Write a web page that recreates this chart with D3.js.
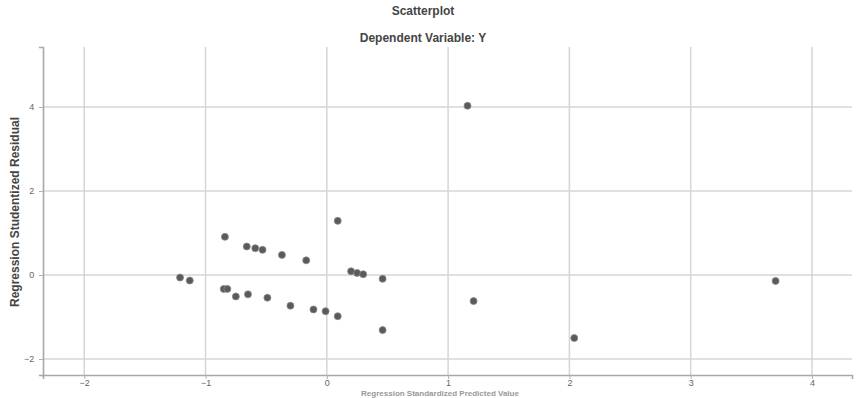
<!DOCTYPE html>
<html>
<head>
<meta charset="utf-8">
<script src="https://cdn.jsdelivr.net/npm/d3@7"></script>
<style>
  body { margin: 0; background: #fff; }
  svg { display: block; font-family: "Liberation Sans", Arial, sans-serif; }
</style>
</head>
<body>
<div id="chart"></div>
<script>
// predicted (standardized) values
var predValues = [0.09, -0.84, -0.66, -0.59, -0.53, -0.37, -0.17, -1.21, -1.13,
    0.20, 0.25, 0.30, 0.46, -0.85, -0.82, -0.75, -0.65, -0.49, -0.30, -0.11,
    -0.01, 0.09, 0.46, 1.16, 1.21, 2.04, 3.70];
// studentized residuals
var residValues = [1.29, 0.91, 0.68, 0.64, 0.60, 0.48, 0.35, -0.06, -0.13,
    0.09, 0.05, 0.02, -0.09, -0.33, -0.33, -0.51, -0.46, -0.54, -0.73, -0.82,
    -0.86, -0.98, -1.31, 4.03, -0.62, -1.50, -0.14];

var xTicks = [-2, -1, 0, 1, 2, 3, 4];
var yTicks = [-2, 0, 2, 4];

var vWidth = 861, vHeight = 398;
var vMargin = { mTop: 47, mRight: 9, mBottom: 23, mLeft: 43 };

var svg = d3.select("#chart")
    .append("svg")
    .attr("width", vWidth)
    .attr("height", vHeight);

var xScale = d3.scaleLinear()
    .domain([-2.34, 4.33])
    .range([vMargin.mLeft, vWidth - vMargin.mRight]);

var yScale = d3.scaleLinear()
    .domain([-2.38, 5.43])
    .range([vHeight - vMargin.mBottom, vMargin.mTop]);

var yBottom = vHeight - vMargin.mBottom;

// grid lines
svg.append("g")
    .selectAll("line")
    .data(xTicks)
    .enter()
    .append("line")
    .attr("x1", function (d) { return xScale(d); })
    .attr("x2", function (d) { return xScale(d); })
    .attr("y1", vMargin.mTop)
    .attr("y2", yBottom)
    .attr("stroke", "#d6d6d6")
    .attr("stroke-width", 1.5);

svg.append("g")
    .selectAll("line")
    .data(yTicks)
    .enter()
    .append("line")
    .attr("x1", vMargin.mLeft)
    .attr("x2", vWidth - vMargin.mRight)
    .attr("y1", function (d) { return yScale(d); })
    .attr("y2", function (d) { return yScale(d); })
    .attr("stroke", "#d6d6d6")
    .attr("stroke-width", 1.5);

// axes
var xAxis = svg.append("g")
    .attr("transform", "translate(0," + yBottom + ")")
    .call(d3.axisBottom(xScale).tickValues(xTicks).tickSize(4).tickFormat(d3.format("d")));
var yAxis = svg.append("g")
    .attr("transform", "translate(" + vMargin.mLeft + ",0)")
    .call(d3.axisLeft(yScale).tickValues(yTicks).tickSize(4).tickFormat(d3.format("d")));

[xAxis, yAxis].forEach(function (g) {
    g.select(".domain").attr("stroke", "#a8a8a8").attr("stroke-width", 1.6);
    g.selectAll(".tick line").attr("stroke", "#b0b0b0");
    g.selectAll(".tick text")
        .attr("fill", "#666")
        .style("font-size", "9px")
        .style("font-family", "Liberation Sans, Arial, sans-serif");
});
xAxis.selectAll(".tick text").attr("y", 6).attr("dy", "0.5em");
yAxis.selectAll(".tick text").attr("dx", "-0.2em");

// points
svg.append("g")
    .selectAll("circle")
    .data(predValues.map(function (v, i) { return [v, residValues[i]]; }))
    .enter()
    .append("circle")
    .attr("cx", function (d) { return xScale(d[0]); })
    .attr("cy", function (d) { return yScale(d[1]); })
    .attr("r", 3.5)
    .attr("fill", "#5a5a5a")
    .attr("stroke", "#8a8a8a")
    .attr("stroke-width", 0.8);

// titles
svg.append("text")
    .attr("x", 423).attr("y", 15)
    .attr("text-anchor", "middle")
    .style("font-size", "12px").style("font-weight", "bold")
    .attr("fill", "#444")
    .text("Scatterplot");

svg.append("text")
    .attr("x", 423).attr("y", 42)
    .attr("text-anchor", "middle")
    .style("font-size", "12px").style("font-weight", "bold")
    .attr("fill", "#444")
    .text("Dependent Variable: Y");

svg.append("text")
    .attr("transform", "translate(19,212) rotate(-90)")
    .attr("text-anchor", "middle")
    .style("font-size", "12px").style("font-weight", "bold")
    .attr("fill", "#444")
    .text("Regression Studentized Residual");

svg.append("text")
    .attr("x", 440).attr("y", 396)
    .attr("text-anchor", "middle")
    .style("font-size", "8px").style("font-weight", "bold")
    .attr("fill", "#999")
    .text("Regression Standardized Predicted Value");
</script>
</body>
</html>
